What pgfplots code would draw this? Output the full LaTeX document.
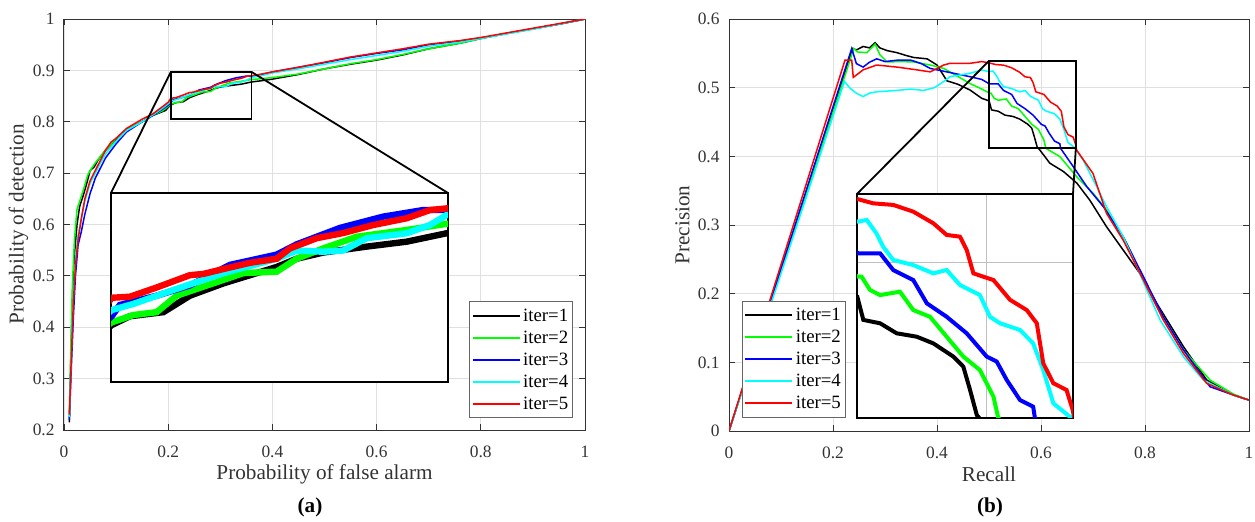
\documentclass[border=0pt]{standalone}
\usepackage{fontspec}
\setmainfont{Liberation Serif}
\usepackage{pgfplots}
\usepackage{pgfplotstable}
\pgfplotsset{compat=1.18}

\definecolor{mgreen}{rgb}{0,1,0}
\definecolor{mcyan}{rgb}{0,1,1}
\definecolor{mblue}{rgb}{0,0,1}
\definecolor{mred}{rgb}{1,0,0}
\definecolor{axgray}{gray}{0.2}
\definecolor{gridgray}{gray}{0.88}

% ---------- ROC curves (Pfa, Pd) ----------
\pgfplotstableread{
x y
0.0103 0.215
0.013 0.33
0.016 0.45
0.020 0.54
0.025 0.60
0.030 0.635
0.038 0.66
0.045 0.685
0.050 0.705
0.058 0.712
0.065 0.725
0.080 0.745
0.100 0.765
0.120 0.785
0.150 0.800
0.170 0.812
0.185 0.818
0.195 0.822
0.200 0.828
0.2053 0.8327
0.2137 0.837
0.2291 0.839
0.2413 0.847
0.2567 0.853
0.2812 0.861
0.2904 0.865
0.3026 0.868
0.3226 0.8709
0.3410 0.8733
0.3594 0.8774
0.380 0.880
0.400 0.883
0.450 0.892
0.500 0.903
0.550 0.912
0.600 0.920
0.650 0.930
0.700 0.942
0.760 0.953
0.800 0.962
0.850 0.972
0.900 0.981
0.950 0.990
1.000 1.000
}\rocA
\pgfplotstableread{
x y
0.0103 0.23
0.013 0.36
0.016 0.48
0.020 0.57
0.025 0.63
0.030 0.645
0.038 0.67
0.045 0.695
0.050 0.705
0.060 0.720
0.080 0.745
0.100 0.767
0.120 0.785
0.150 0.800
0.170 0.812
0.190 0.822
0.200 0.830
0.2053 0.834
0.2153 0.8376
0.2260 0.839
0.2352 0.847
0.2567 0.8547
0.2659 0.858
0.2812 0.8587
0.2904 0.865
0.3026 0.870
0.3180 0.8757
0.3410 0.879
0.3594 0.882
0.380 0.884
0.400 0.886
0.450 0.893
0.500 0.903
0.550 0.913
0.600 0.921
0.650 0.931
0.700 0.942
0.760 0.953
0.800 0.962
0.850 0.972
0.900 0.981
0.950 0.990
1.000 1.000
}\rocB
\pgfplotstableread{
x y
0.0103 0.22
0.014 0.32
0.018 0.42
0.022 0.50
0.027 0.56
0.033 0.585
0.040 0.62
0.050 0.66
0.060 0.69
0.070 0.71
0.080 0.73
0.100 0.757
0.120 0.780
0.150 0.800
0.170 0.812
0.190 0.825
0.200 0.832
0.2053 0.837
0.2091 0.8425
0.2260 0.847
0.2413 0.852
0.2597 0.862
0.2812 0.867
0.2904 0.872
0.3103 0.880
0.3302 0.8855
0.3486 0.8887
0.3594 0.8887
0.380 0.892
0.400 0.897
0.450 0.906
0.500 0.915
0.550 0.925
0.600 0.933
0.650 0.940
0.700 0.950
0.760 0.957
0.800 0.963
0.850 0.972
0.900 0.981
0.950 0.990
1.000 1.000
}\rocC
\pgfplotstableread{
x y
0.0103 0.225
0.014 0.35
0.018 0.46
0.022 0.53
0.027 0.58
0.033 0.61
0.040 0.645
0.050 0.68
0.060 0.70
0.070 0.72
0.080 0.738
0.100 0.762
0.120 0.783
0.150 0.800
0.170 0.813
0.190 0.827
0.200 0.835
0.2053 0.840
0.2153 0.843
0.2337 0.8498
0.2567 0.858
0.2812 0.865
0.2904 0.869
0.3026 0.8684
0.3118 0.869
0.3226 0.875
0.3410 0.8774
0.3517 0.8814
0.3594 0.8863
0.380 0.890
0.400 0.895
0.450 0.903
0.500 0.912
0.550 0.921
0.600 0.929
0.650 0.937
0.700 0.947
0.760 0.955
0.800 0.962
0.850 0.971
0.900 0.980
0.950 0.990
1.000 1.000
}\rocD
\pgfplotstableread{
x y
0.0103 0.23
0.014 0.34
0.018 0.45
0.022 0.52
0.027 0.57
0.033 0.61
0.040 0.65
0.050 0.685
0.060 0.705
0.070 0.725
0.080 0.745
0.090 0.760
0.100 0.768
0.120 0.787
0.150 0.805
0.170 0.815
0.190 0.830
0.200 0.838
0.2053 0.846
0.2137 0.8465
0.2260 0.851
0.2413 0.857
0.2475 0.8576
0.2567 0.860
0.2689 0.863
0.2812 0.865
0.2873 0.870
0.2996 0.875
0.3118 0.8775
0.3256 0.8814
0.3410 0.8847
0.3517 0.8887
0.3594 0.8895
0.380 0.893
0.400 0.897
0.450 0.906
0.500 0.916
0.550 0.926
0.600 0.934
0.650 0.942
0.700 0.951
0.760 0.958
0.800 0.964
0.850 0.973
0.900 0.982
0.950 0.991
1.000 1.000
}\rocE

% ---------- Precision-recall curves (Recall, Precision) ----------
\pgfplotstableread{
x y
0 0
0.238 0.557
0.245 0.555
0.258 0.560
0.270 0.558
0.281 0.5655
0.290 0.558
0.304 0.554
0.323 0.551
0.340 0.547
0.355 0.544
0.381 0.542
0.400 0.533
0.419 0.510
0.440 0.505
0.4635 0.4966
0.486 0.4845
0.5002 0.4808
0.5049 0.4676
0.5178 0.4657
0.5307 0.4600
0.5461 0.4581
0.5590 0.4543
0.5745 0.4468
0.5822 0.4411
0.5874 0.4279
0.5926 0.4137
0.598 0.409
0.617 0.390
0.643 0.378
0.669 0.361
0.694 0.336
0.726 0.2975
0.758 0.2636
0.790 0.2296
0.8225 0.186
0.874 0.1228
0.9186 0.0743
0.970 0.0524
1.000 0.045
}\prA
\pgfplotstableread{
x y
0 0
0.240 0.557
0.247 0.552
0.265 0.551
0.281 0.5635
0.290 0.548
0.304 0.5375
0.330 0.538
0.355 0.5375
0.387 0.533
0.413 0.528
0.425 0.523
0.4635 0.506
0.486 0.498
0.501 0.4921
0.5036 0.4921
0.510 0.4846
0.5178 0.4817
0.5332 0.4836
0.5435 0.4732
0.5564 0.4694
0.5693 0.4581
0.5822 0.4468
0.5950 0.4392
0.6055 0.4241
0.6093 0.4117
0.6365 0.3995
0.669 0.370
0.7006 0.346
0.726 0.322
0.765 0.2733
0.797 0.220
0.835 0.1665
0.874 0.118
0.925 0.0743
0.970 0.0538
1.000 0.045
}\prB
\pgfplotstableread{
x y
0 0
0.236 0.557
0.245 0.535
0.258 0.530
0.270 0.537
0.284 0.542
0.300 0.538
0.323 0.540
0.350 0.540
0.370 0.535
0.387 0.528
0.419 0.523
0.4635 0.516
0.486 0.512
0.501 0.5054
0.5178 0.5054
0.528 0.4959
0.5435 0.4902
0.554 0.477
0.5693 0.4694
0.5848 0.460
0.6003 0.4468
0.608 0.444
0.6158 0.4335
0.626 0.4222
0.6362 0.4184
0.6376 0.4117
0.662 0.385
0.688 0.356
0.720 0.3266
0.758 0.283
0.797 0.2247
0.835 0.1665
0.874 0.118
0.925 0.0645
0.970 0.0524
1.000 0.045
}\prC
\pgfplotstableread{
x y
0 0
0.222 0.509
0.233 0.499
0.245 0.492
0.258 0.487
0.270 0.492
0.284 0.494
0.323 0.496
0.350 0.498
0.374 0.496
0.395 0.500
0.413 0.509
0.425 0.516
0.4635 0.521
0.486 0.5257
0.501 0.5233
0.5075 0.5243
0.515 0.5167
0.5203 0.509
0.528 0.5016
0.5435 0.4987
0.559 0.494
0.5693 0.4959
0.5796 0.4874
0.595 0.4817
0.6028 0.4694
0.6106 0.4657
0.626 0.4619
0.6362 0.4543
0.644 0.4392
0.6518 0.4203
0.6646 0.4127
0.681 0.3946
0.707 0.356
0.726 0.3266
0.758 0.283
0.784 0.239
0.829 0.1617
0.874 0.108
0.912 0.0743
0.970 0.0524
1.000 0.045
}\prD
\pgfplotstableread{
x y
0 0
0.223 0.540
0.236 0.540
0.239 0.515
0.258 0.526
0.284 0.533
0.323 0.530
0.361 0.526
0.387 0.523
0.413 0.533
0.425 0.5355
0.4635 0.5355
0.486 0.538
0.501 0.536
0.5126 0.5337
0.528 0.5328
0.5435 0.529
0.559 0.5224
0.5693 0.5158
0.5796 0.5148
0.5848 0.5073
0.590 0.494
0.6055 0.4902
0.6183 0.479
0.6312 0.4732
0.639 0.4657
0.644 0.443
0.6518 0.4317
0.662 0.4279
0.6668 0.4165
0.6686 0.409
0.700 0.375
0.726 0.317
0.758 0.278
0.797 0.220
0.835 0.162
0.874 0.113
0.9186 0.0694
0.970 0.0524
1.000 0.045
}\prE

\pgfplotsset{
  panel/.style={
    scale only axis,
    axis line style={axgray, line width=0.5pt},
    tick style={axgray, line width=0.45pt},
    tick align=inside, major tick length=3pt,
    grid=major, grid style={gridgray, line width=0.45pt},
    ticklabel style={font=\fontsize{8.7}{10}\selectfont, text=axgray},
    /pgf/number format/assume math mode=true,
    xticklabel style={yshift=-4.5pt},
    yticklabel style={xshift=-1.2pt},
    label style={font=\fontsize{10.6}{12}\selectfont, text=axgray},
    legend cell align=left,
    legend style={draw=black!60, fill=white,
      font=\fontsize{9.4}{11}\selectfont, inner xsep=1pt, inner ysep=1.5pt,
      nodes={inner xsep=1.2pt, inner ysep=1.75pt, text height=6.5pt, text depth=1pt}},
    legend image code/.code={\draw[#1, line width=1pt] (0pt,0pt) -- (23.5pt,0pt);},
  },
  zoombox/.style={
    scale only axis, ticks=none,
    axis line style={black, line width=0.9pt},
    axis background/.style={fill=white},
  },
}

\begin{document}
\begin{tikzpicture}
\useasboundingbox (0,0) rectangle (627.5pt,260.5pt);

% ================= (a) ROC =================
\begin{axis}[panel, name=L, at={(32pt,45.5pt)}, anchor=south west,
  width=260.5pt, height=205.5pt,
  xmin=0, xmax=1, ymin=0.2, ymax=1,
  xtick={0,0.2,...,1}, ytick={0.2,0.3,...,1.0},
  xlabel={Probability of false alarm},
  ylabel={Probability of detection},
  xlabel style={at={(axis description cs:0.5,-0.108)}, anchor=center},
  ylabel style={at={(axis description cs:-0.0873,0.5)}, anchor=center},
  legend style={at={(0.977,0.029)}, anchor=south east},
]
\addplot[black,  line width=0.75pt] table {\rocA}; \addlegendentry{iter=1}
\addplot[mgreen, line width=0.75pt] table {\rocB}; \addlegendentry{iter=2}
\addplot[mblue,  line width=0.75pt] table {\rocC}; \addlegendentry{iter=3}
\addplot[mcyan,  line width=0.75pt] table {\rocD}; \addlegendentry{iter=4}
\addplot[mred,   line width=0.75pt] table {\rocE}; \addlegendentry{iter=5}
\draw[black, line width=0.9pt] (axis cs:0.205,0.805) rectangle (axis cs:0.36,0.897);
\coordinate (Ls1) at (axis cs:0.205,0.897);
\coordinate (Ls2) at (axis cs:0.36,0.897);
\end{axis}

\begin{axis}[zoombox, name=Li, at={(55.5pt,69.5pt)}, anchor=south west,
  width=168.5pt, height=94.5pt,
  xmin=0.205, xmax=0.36, ymin=0.805, ymax=0.897]
\addplot[black,  line width=3.2pt] table {\rocA};
\addplot[mgreen, line width=3.2pt] table {\rocB};
\addplot[mblue,  line width=3.2pt] table {\rocC};
\addplot[mcyan,  line width=3.2pt] table {\rocD};
\addplot[mred,   line width=3.2pt] table {\rocE};
\coordinate (Li1) at (rel axis cs:0,1);
\coordinate (Li2) at (rel axis cs:1,1);
\end{axis}
\draw[black, line width=0.9pt] (Ls1) -- (Li1) (Ls2) -- (Li2);

% ================= (b) Precision-recall =================
\begin{axis}[panel, name=R, at={(364.5pt,45pt)}, anchor=south west,
  width=260pt, height=206pt,
  xmin=0, xmax=1, ymin=0, ymax=0.6,
  xtick={0,0.2,...,1}, ytick={0,0.1,...,0.6},
  xlabel={Recall},
  ylabel={Precision},
  xlabel style={at={(axis description cs:0.5,-0.1056)}, anchor=center},
  ylabel style={at={(axis description cs:-0.0894,0.5)}, anchor=center},
  legend style={at={(0.025,0.032)}, anchor=south west},
]
\addplot[black,  line width=0.75pt] table {\prA}; \addlegendentry{iter=1}
\addplot[mgreen, line width=0.75pt] table {\prB}; \addlegendentry{iter=2}
\addplot[mblue,  line width=0.75pt] table {\prC}; \addlegendentry{iter=3}
\addplot[mcyan,  line width=0.75pt] table {\prD}; \addlegendentry{iter=4}
\addplot[mred,   line width=0.75pt] table {\prE}; \addlegendentry{iter=5}
\draw[black, line width=0.9pt] (axis cs:0.5,0.412) rectangle (axis cs:0.667,0.539);
\coordinate (Rs1) at (axis cs:0.5,0.539);
\coordinate (Rs2) at (axis cs:0.667,0.412);
\end{axis}

\begin{axis}[zoombox, name=Ri, at={(428.5pt,51.5pt)}, anchor=south west,
  width=108pt, height=112pt,
  xmin=0.5, xmax=0.667, ymin=0.412, ymax=0.539,
  xtick={0.6}, ytick={0.5}, xticklabels={}, yticklabels={},
  major tick length=0pt,
  grid=major, grid style={black!25, line width=0.6pt}]
\addplot[black,  line width=2pt] table {\prA};
\addplot[mgreen, line width=2pt] table {\prB};
\addplot[mblue,  line width=2pt] table {\prC};
\addplot[mcyan,  line width=2pt] table {\prD};
\addplot[mred,   line width=2pt] table {\prE};
\coordinate (Ri1) at (rel axis cs:0,1);
\coordinate (Ri2) at (rel axis cs:1,1);
\end{axis}
\draw[black, line width=0.9pt] (Rs1) -- (Ri1) (Rs2) -- (Ri2);

% panel captions
\node[font=\bfseries\fontsize{10.6}{12}\selectfont] at (155pt,7pt) {(a)};
\node[font=\bfseries\fontsize{10.6}{12}\selectfont] at (495pt,7pt) {(b)};
\end{tikzpicture}
\end{document}
